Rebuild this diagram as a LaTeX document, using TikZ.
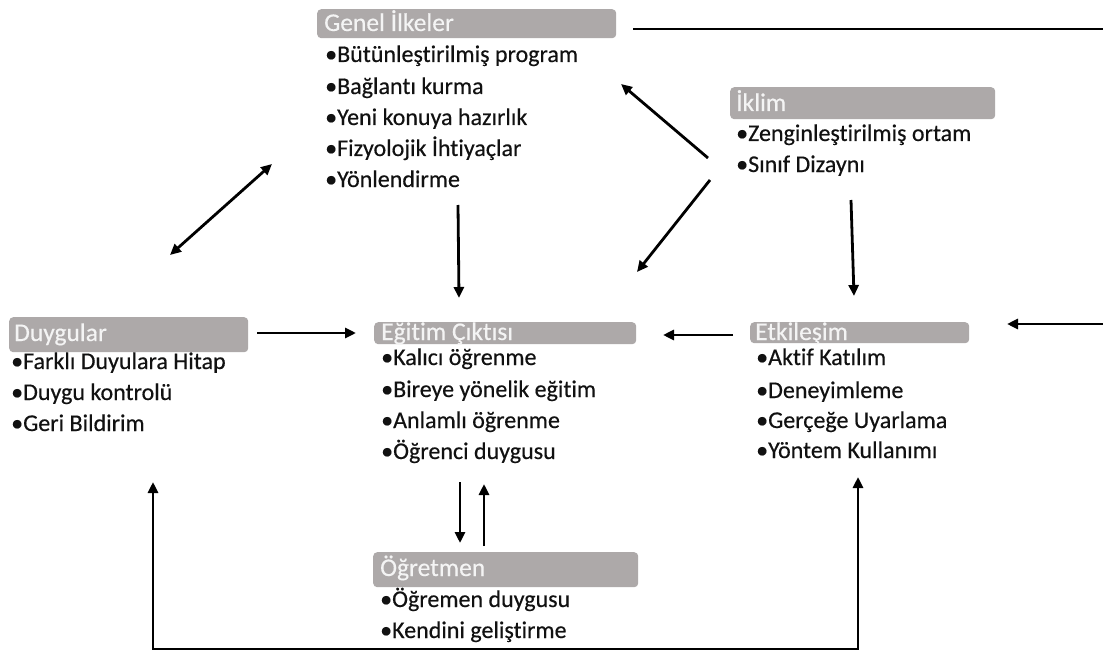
\documentclass[tikz,border=0pt]{standalone}
\usepackage{fontspec}
\setmainfont{Carlito}[Ligatures={NoCommon,NoRare}, FakeBold=0.35]
\usetikzlibrary{arrows.meta}
\definecolor{hdrgray}{HTML}{ADA9A9}
\definecolor{hdrtext}{HTML}{F4F4F4}
\definecolor{txt}{HTML}{111111}
\tikzset{
  hdr/.style={fill=hdrgray, rounded corners=4pt, anchor=north west, inner sep=0pt, draw=none},
  htxt/.style={anchor=base west, inner sep=0pt, text=hdrtext, font=\fontsize{25.5}{25.5}\selectfont},
  item/.style={anchor=base west, inner sep=0pt, text=txt, font=\fontsize{24}{24}\selectfont},
  arr/.style={line width=2.8pt, draw=black, -{Triangle[length=11pt,width=10pt]}},
  arrboth/.style={line width=2.8pt, draw=black, {Triangle[length=11pt,width=10pt]}-{Triangle[length=11pt,width=10pt]}},
}
\begin{document}
\begin{tikzpicture}[x=1pt,y=-1pt]
\useasboundingbox (0,0) rectangle (1103,650);
\fill[white] (0,0) rectangle (1103,650);
\clip (0,0) rectangle (1103,650);

% Genel Ilkeler
\node[hdr, minimum width=299pt, minimum height=29pt] (gh) at (317,9) {};
\node[htxt] (ght) at (324,31) {Genel İlkeler};
\node[item] (g1) at (325,62) {•Bütünleştirilmiş program};
\node[item] (g2) at (325,94) {•Bağlantı kurma};
\node[item] (g3) at (325,125) {•Yeni konuya hazırlık};
\node[item] (g4) at (325,156) {•Fizyolojik İhtiyaçlar};
\node[item] (g5) at (325,187) {•Yönlendirme};

% Iklim
\node[hdr, minimum width=265pt, minimum height=32pt] (ih) at (730,87) {};
\node[htxt] (iht) at (736,111) {İklim};
\node[item] (i1) at (736,141) {•Zenginleştirilmiş ortam};
\node[item] (i2) at (736,172) {•Sınıf Dizaynı};

% Duygular
\node[hdr, minimum width=239pt, minimum height=35pt] (dh) at (9,317) {};
\node[htxt] (dht) at (14,341) {Duygular};
\node[item] (d1) at (11,369) {•Farklı Duyulara Hitap};
\node[item] (d2) at (11,400) {•Duygu kontrolü};
\node[item] (d3) at (11,431) {•Geri Bildirim};

% Egitim Ciktisi
\node[hdr, minimum width=262pt, minimum height=22pt] (eh) at (374,322) {};
\node[htxt] (eht) at (381,340) {Eğitim Çıktısı};
\node[item] (e1) at (381,365) {•Kalıcı öğrenme};
\node[item] (e2) at (381,397) {•Bireye yönelik eğitim};
\node[item] (e3) at (381,428) {•Anlamlı öğrenme};
\node[item] (e4) at (381,459) {•Öğrenci duygusu};

% Etkilesim
\node[hdr, minimum width=219pt, minimum height=21pt] (kh) at (750,322) {};
\node[htxt] (kht) at (755,340) {Etkileşim};
\node[item] (k1) at (756,365) {•Aktif Katılım};
\node[item] (k2) at (756,398) {•Deneyimleme};
\node[item] (k3) at (756,428) {•Gerçeğe Uyarlama};
\node[item] (k4) at (756,458) {•Yöntem Kullanımı};

% Ogretmen
\node[hdr, minimum width=265pt, minimum height=35pt] (oh) at (373,552) {};
\node[htxt] (oht) at (380,576) {Öğretmen};
\node[item] (o1) at (380,607) {•Öğremen duygusu};
\node[item] (o2) at (380,638) {•Kendini geliştirme};

% connector end points
\coordinate (gdA) at (272,164);
\coordinate (gdB) at (170,255);
\coordinate (geA) at (458,205);
\coordinate (geB) at (459,298);
\coordinate (igA) at (708,158);
\coordinate (igB) at (621,84);
\coordinate (ieA) at (710,180);
\coordinate (ieB) at (637,272);
\coordinate (ikA) at (851,200);
\coordinate (ikB) at (854,296);
\coordinate (deA) at (257,333);
\coordinate (deB) at (356,333);
\coordinate (keA) at (733,335);
\coordinate (keB) at (663,335);
\coordinate (eoA) at (460,482);
\coordinate (eoB) at (460,543);
\coordinate (oeA) at (484,546);
\coordinate (oeB) at (484,484);
\coordinate (topA) at (633,29);
\coordinate (topC) at (1112,29);
\coordinate (rgtC) at (1112,324);
\coordinate (rgtB) at (1007,324);
\coordinate (botL) at (153,649.5);
\coordinate (botR) at (858,649.5);
\coordinate (duIn) at (153,482);
\coordinate (etIn) at (858,477);

\draw[arrboth] (gdA) -- (gdB);
\draw[arr] (geA) -- (geB);
\draw[arr] (igA) -- (igB);
\draw[arr] (ieA) -- (ieB);
\draw[arr] (ikA) -- (ikB);
\draw[arr] (deA) -- (deB);
\draw[arr] (keA) -- (keB);
\draw[arr] (eoA) -- (eoB);
\draw[arr] (oeA) -- (oeB);
\draw[arr] (topA) -- (topC) -- (rgtC) -- (rgtB);
\draw[arrboth] (duIn) -- (botL) -- (botR) -- (etIn);
\end{tikzpicture}
\end{document}
